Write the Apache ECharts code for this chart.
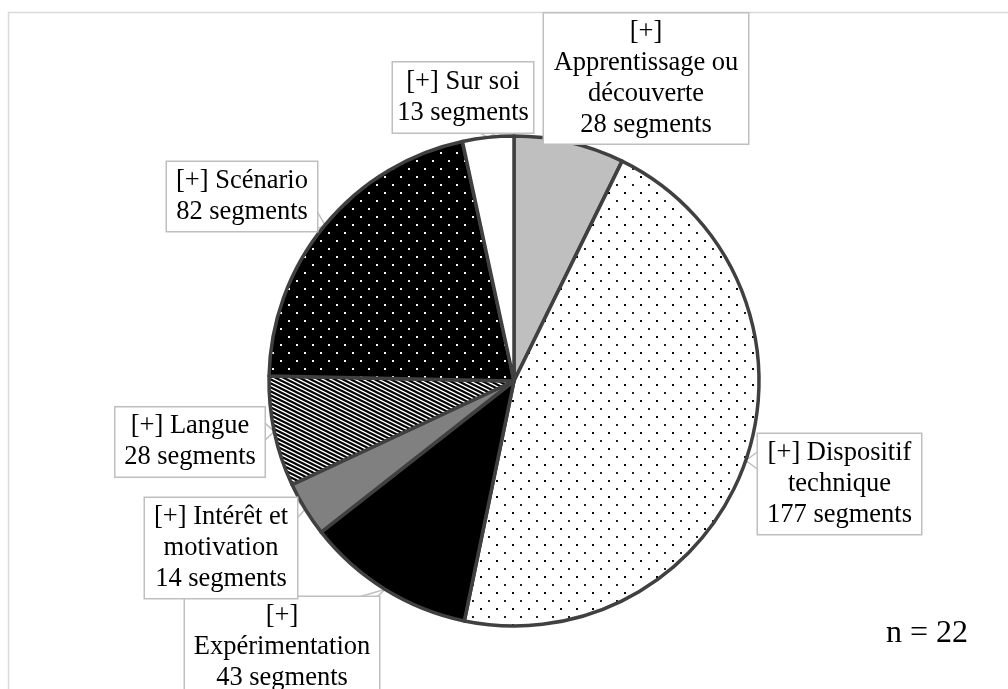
<!DOCTYPE html>
<html>
<head>
<meta charset="utf-8">
<script src="https://cdn.jsdelivr.net/npm/echarts@6/dist/echarts.min.js"></script>
<style>
  html, body { margin: 0; padding: 0; background: #ffffff; }
  #chart { width: 1008px; height: 689px; }
</style>
</head>
<body>
<div id="chart"></div>
<script>
// Codes and their segment counts, clockwise from twelve o'clock
const categories = [
  'Apprentissage ou découverte',
  'Dispositif technique',
  'Expérimentation',
  'Intérêt et motivation',
  'Langue',
  'Scénario',
  'Sur soi'
];
const segmentCounts = [28, 177, 43, 14, 28, 82, 13];
// Text lines of each callout, the count line is appended from the value
const calloutHeads = [
  ['[+]', 'Apprentissage ou', 'découverte'],
  ['[+] Dispositif', 'technique'],
  ['[+]', 'Expérimentation'],
  ['[+] Intérêt et', 'motivation'],
  ['[+] Langue'],
  ['[+] Scénario'],
  ['[+] Sur soi']
];
const participantsNote = 'n = 22';

// Callout boxes: centre and size in pixels
const calloutBoxes = [
  { cx: 646, cy: 78.5, w: 204, h: 130 },
  { cx: 839.5, cy: 484, w: 163, h: 100 },
  { cx: 282, cy: 647.5, w: 194, h: 101 },
  { cx: 221, cy: 548, w: 152, h: 100 },
  { cx: 190, cy: 442, w: 149, h: 69 },
  { cx: 242, cy: 196.5, w: 150, h: 69 },
  { cx: 463, cy: 97.5, w: 140, h: 70 }
];

const LINE_H = 31;
const FONT = '"Liberation Serif", "Times New Roman", serif';

// Fill patterns painted on small tiles
function tile(w, h, paint) {
  const c = document.createElement('canvas');
  c.width = w; c.height = h;
  paint(c.getContext('2d'), w, h);
  return { image: c, repeat: 'repeat' };
}
const sparseDots = tile(16, 16, (g, w, h) => {
  g.fillStyle = '#ffffff'; g.fillRect(0, 0, w, h);
  g.fillStyle = '#000000'; g.fillRect(0, 0, 2, 2);
  g.fillStyle = '#222222'; g.fillRect(8, 8, 2, 2);
});
const whiteDotsOnBlack = tile(16, 16, (g, w, h) => {
  g.fillStyle = '#000000'; g.fillRect(0, 0, w, h);
  g.fillStyle = '#ffffff'; g.fillRect(0, 0, 2, 2); g.fillRect(8, 8, 2, 2);
});
const diagonalStripes = tile(8, 4, (g, w, h) => {
  g.fillStyle = '#ffffff'; g.fillRect(0, 0, w, h);
  g.strokeStyle = '#000000'; g.lineWidth = 2.1;
  for (let k = -1; k <= 1; k++) {
    g.beginPath();
    g.moveTo(-w + k * w, -h); g.lineTo(2 * w + k * w, 2 * h);
    g.stroke();
  }
});
const sliceFills = ['#bfbfbf', sparseDots, '#000000', '#808080', diagonalStripes, whiteDotsOnBlack, '#ffffff'];

// Two base points on the callout edge nearest to the tip, forming the pointer
function pointer(tip, b) {
  const x0 = b.cx - b.w / 2, x1 = b.cx + b.w / 2, y0 = b.cy - b.h / 2, y1 = b.cy + b.h / 2;
  const nx = Math.min(Math.max(tip[0], x0), x1);
  const ny = Math.min(Math.max(tip[1], y0), y1);
  const dx = Math.abs(tip[0] - nx), dy = Math.abs(tip[1] - ny);
  const half = 9, m = 2;
  if (dx === 0 && dy === 0) return [tip, tip, tip];
  if (dx > dy) {
    const c = Math.min(Math.max(ny, y0 + half + m), y1 - half - m);
    return [[nx, c - half], tip, [nx, c + half]];
  }
  const c = Math.min(Math.max(nx, x0 + half + m), x1 - half - m);
  return [[c - half, ny], tip, [c + half, ny]];
}

const seriesData = categories.map((name, i) => {
  const b = calloutBoxes[i];
  const lines = calloutHeads[i].length + 1;
  const pv = (b.h - lines * LINE_H) / 2;
  return {
    name: name,
    value: segmentCounts[i],
    itemStyle: { color: sliceFills[i] },
    label: { width: b.w - 8, padding: [pv, 4, pv, 4] }
  };
});

const chart = echarts.init(document.getElementById('chart'), null, { renderer: 'canvas' });
chart.setOption({
  animation: false,
  backgroundColor: '#ffffff',
  title: {
    text: participantsNote,
    left: 886,
    top: 618,
    padding: 0,
    textStyle: { fontFamily: FONT, fontSize: 32, fontWeight: 'normal', color: '#000000' }
  },
  graphic: [{
    type: 'rect',
    z: -10,
    shape: { x: 8.5, y: 12.5, width: 1300, height: 900 },
    style: { fill: 'none', stroke: '#d9d9d9', lineWidth: 1.5 }
  }],
  series: [{
    type: 'pie',
    center: [514, 381],
    radius: 245,
    startAngle: 90,
    clockwise: true,
    avoidLabelOverlap: false,
    data: seriesData,
    itemStyle: { borderColor: '#404040', borderWidth: 3.5 },
    label: {
      show: true,
      position: 'outside',
      alignTo: 'none',
      overflow: 'none',
      align: 'center',
      fontFamily: FONT,
      fontSize: 26.5,
      lineHeight: LINE_H,
      color: '#000000',
      backgroundColor: '#ffffff',
      borderColor: '#bfbfbf',
      borderWidth: 1.5,
      formatter: p => calloutHeads[p.dataIndex].concat(p.value + ' segments').join('\n')
    },
    labelLine: {
      show: true,
      length: 10,
      length2: 10,
      lineStyle: { color: '#bfbfbf', width: 1.5 }
    },
    labelLayout: function (params) {
      const b = calloutBoxes[params.dataIndex];
      const tip = params.labelLinePoints ? params.labelLinePoints[0] : [b.cx, b.cy];
      return {
        x: b.cx,
        y: b.cy,
        align: 'center',
        verticalAlign: 'middle',
        labelLinePoints: pointer(tip, b)
      };
    },
    emphasis: { disabled: true }
  }]
});
</script>
</body>
</html>
